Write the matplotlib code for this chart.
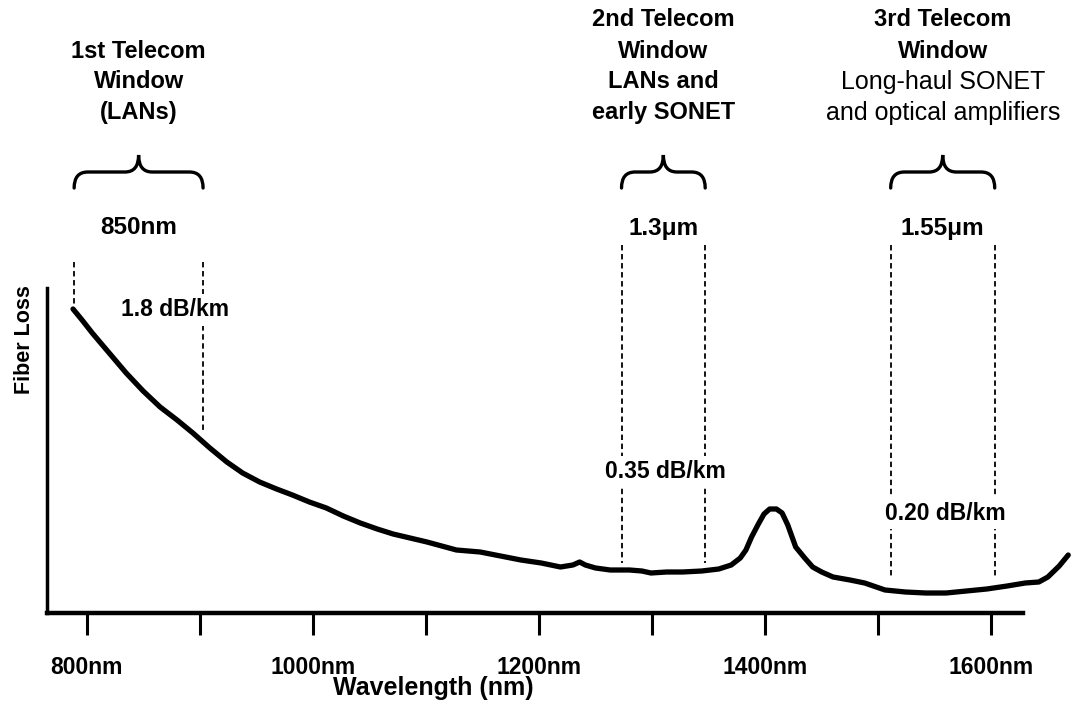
import matplotlib.pyplot as plt
from matplotlib.path import Path
from matplotlib.patches import PathPatch

plt.rcParams['font.family'] = ['Liberation Sans', 'DejaVu Sans']

# attenuation curve (arbitrary loss units)
wavelength = [788, 796, 805, 820, 835, 850, 865, 880, 894, 909, 924, 938, 953,
              968, 982, 997, 1012, 1027, 1042, 1057, 1071, 1086, 1101, 1114,
              1127, 1148, 1166, 1184, 1202, 1219, 1230, 1236, 1241, 1250,
              1263, 1280, 1291, 1299, 1313, 1327, 1344, 1359, 1370, 1378,
              1383, 1388, 1394, 1399, 1404, 1410, 1415, 1420, 1427, 1435,
              1442, 1450, 1460, 1475, 1488, 1506, 1524, 1542, 1560, 1578,
              1596, 1614, 1630, 1642, 1650, 1660, 1668]
loss = [304, 293, 280, 260, 240, 222, 206, 193, 180, 165, 151, 140, 131,
        124, 118, 111, 105, 97, 90, 84, 79, 75, 71, 67,
        63, 61, 57, 53, 50, 46, 48, 51, 48, 45,
        43, 43, 42, 40, 41, 41, 42, 44, 48, 55,
        63, 76, 89, 99, 104, 104, 100, 88, 66, 55,
        46, 41, 36, 33, 30, 23, 21, 20, 20, 22,
        24, 27, 30, 31, 36, 47, 58]

tick_pos = [800, 900, 1000, 1100, 1200, 1300, 1400, 1500, 1600]
tick_lbl = ["800nm", "", "1000nm", "", "1200nm", "", "1400nm", "", "1600nm"]

# telecom windows
win_edges = [(789, 903), (1273, 1347), (1511, 1603)]
win_centers = ["850nm", "1.3\u03bcm", "1.55\u03bcm"]
win_loss = ["1.8 dB/km", "0.35 dB/km", "0.20 dB/km"]
win_titles = [
    [("1st Telecom", "bold"), ("Window", "bold"), ("(LANs)", "bold")],
    [("2nd Telecom", "bold"), ("Window", "bold"), ("LANs and", "bold"),
     ("early SONET", "bold")],
    [("3rd Telecom", "bold"), ("Window", "bold"), ("Long-haul SONET", "normal"),
     ("and optical amplifiers", "normal")],
]

W, H = 1071, 710
fig = plt.figure(figsize=(W / 100, H / 100), dpi=100)
ax = fig.add_axes([47 / W, (H - 613) / H, (1023 - 47) / W, (613 - 288) / H])

ax.plot(wavelength, loss, color="black", lw=3.8, solid_capstyle="round",
        solid_joinstyle="round", clip_on=False, zorder=3)

ax.set_xlim(765, 1628)
ax.set_ylim(0, 325)
ax.set_xticks(tick_pos)
ax.set_xticklabels(tick_lbl, fontsize=16.5, fontweight="bold")
ax.tick_params(axis="x", direction="out", length=16, width=2.2, pad=15)
ax.set_yticks([])
for s in ["top", "right"]:
    ax.spines[s].set_visible(False)
ax.spines["bottom"].set_linewidth(3.2)
ax.spines["left"].set_linewidth(2.5)

fig.text(433 / W, 1 - 688 / H, "Wavelength (nm)", fontsize=18,
         fontweight="bold", ha="center", va="center")
fig.text(25 / W, 1 - 340 / H, "Fiber Loss", fontsize=15.5, fontweight="bold",
         rotation=90, ha="center", va="center")


def brace(x0, x1, yb=425, yf=441, yt=458, d=12):
    xm = (x0 + x1) / 2
    verts = [(x0, yb), (x0, yf), (x0 + d, yf),
             (xm - d, yf), (xm, yf), (xm, yt),
             (xm, yf), (xm + d, yf),
             (x1 - d, yf), (x1, yf), (x1, yb)]
    codes = [Path.MOVETO, Path.CURVE3, Path.CURVE3,
             Path.LINETO, Path.CURVE3, Path.CURVE3,
             Path.CURVE3, Path.CURVE3,
             Path.LINETO, Path.CURVE3, Path.CURVE3]
    ax.add_patch(PathPatch(Path(verts, codes), fc="none", ec="black",
                           lw=2.4, clip_on=False, capstyle="round"))


dash_tops = [351, 368, 368]
dash_bottoms = [(308, 183), (50, 50), (36, 36)]
loss_y = [303, 141, 100]
loss_x_shift = [32, 2, 2]

for i, (x0, x1) in enumerate(win_edges):
    xm = (x0 + x1) / 2
    brace(x0, x1)
    ax.text(xm, 385, win_centers[i], fontsize=17.5, fontweight="bold",
            ha="center", va="center", clip_on=False)
    for xe, yb in zip((x0, x1), dash_bottoms[i]):
        ax.plot([xe, xe], [dash_tops[i], yb], color="black", lw=1.3,
                linestyle=(0, (3, 2)), clip_on=False, zorder=1)
    ax.text(xm + loss_x_shift[i], loss_y[i], win_loss[i], fontsize=16.5,
            fontweight="bold", ha="center", va="center", zorder=2,
            bbox=dict(fc="white", ec="none", pad=3))
    lines = win_titles[i]
    n = len(lines)
    for j, (txt, wt) in enumerate(lines):
        y = 500 + (n - 1 - j) * 31
        ax.text(xm, y, txt, fontsize=17 if wt == "bold" else 18,
                fontweight=wt, ha="center", va="center", clip_on=False)

fig.savefig("out.png", dpi=100)
